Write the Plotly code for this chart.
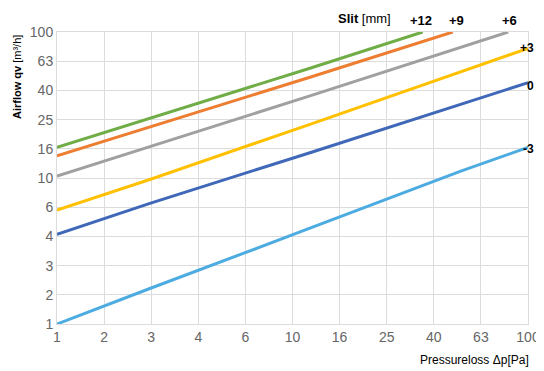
import plotly.graph_objects as go

# (log-log chart, Pa vs m3/h)
tick_vals = [10 ** (k / 5) for k in range(11)]
tick_text = ["1", "2", "3", "4", "6", "10", "16", "25", "40", "63", "100"]

slits = ["+12", "+9", "+6", "+3", "0", "-3"]
colors = ["#70ad47", "#ed7d31", "#a0a0a0", "#ffc000", "#4068b8", "#4cabe0"]

dp_p12 = [1, 2.48, 11.86, 35.7]
q_p12 = [16.2, 25.6, 56.5, 100]
dp_p9 = [1, 2.48, 11.86, 47.9]
q_p9 = [14.2, 22.3, 49.0, 100]
dp_p6 = [1, 2.48, 11.86, 82.4]
q_p6 = [10.3, 16.4, 36.5, 100]
dp_p3 = [1, 2.48, 11.86, 51.5, 100]
q_p3 = [6.03, 9.77, 23.3, 53.5, 77.3]
dp_0 = [1, 2.48, 11.86, 51.5, 100]
q_0 = [4.11, 6.70, 14.9, 31.6, 44.9]
dp_m3 = [1, 2.48, 11.86, 51.5, 100]
q_m3 = [1.0, 1.75, 4.53, 11.1, 16.2]

series = [(dp_p12, q_p12), (dp_p9, q_p9), (dp_p6, q_p6),
          (dp_p3, q_p3), (dp_0, q_0), (dp_m3, q_m3)]

fig = go.Figure()
for name, col, (x, y) in zip(slits, colors, series):
    fig.add_trace(go.Scatter(x=x, y=y, mode="lines", name=name,
                             line=dict(color=col, width=3)))

# the page body has an 8px margin, so the figure is shifted by that much
OFF = 8
W, H = 544 - OFF, 371 - OFF
L, R, T = 57 - OFF, 16, 32 - OFF
B = H - (324 - OFF)
pw, ph = W - L - R, H - T - B


def px(x):
    return (x - OFF - L) / pw


def py(y):
    return (H - B - (y - OFF)) / ph


axis = dict(type="log", range=[0, 2], tickvals=tick_vals, ticktext=tick_text,
            showgrid=True, gridcolor="#dcdcdc", gridwidth=1,
            showline=True, linecolor="#dcdcdc", mirror=True,
            zeroline=False, ticks="", automargin=False,
            tickfont=dict(family="Liberation Sans, Arial", size=14, color="#666666"))

fig.update_layout(
    width=W, height=H,
    margin=dict(l=L, r=R, t=T, b=B),
    plot_bgcolor="white", paper_bgcolor="white",
    showlegend=False,
    xaxis=axis, yaxis=axis,
)


def note(txt, x, y, size=12, angle=0, anchor="center"):
    fig.add_annotation(text=txt, x=px(x), y=py(y), xref="paper", yref="paper",
                       xanchor=anchor, yanchor="middle", textangle=angle,
                       showarrow=False,
                       font=dict(family="Liberation Sans, Arial", size=size, color="black"))


labels = [("<b>+12</b>", 421, 20), ("<b>+9</b>", 456, 20), ("<b>+6</b>", 509, 20)]
for txt, x, y in labels:
    note(txt, x, y, size=13)

# right-hand labels, squeezed against the right edge
note("<b>+3</b>", 536, 48, size=12, anchor="right")
note("<b>0</b>", 536, 86, size=12, anchor="right")
note("<b>-3</b>", 536, 149, size=12, anchor="right")

note("<b>Slit</b> [mm]", 364, 19, size=13)
note("<b>Airflow qv</b> [m³/h]", 17, 77, size=11, angle=-90)
note("Pressureloss Δp[Pa]", 474, 360, size=12)

fig.write_html("out.html")
